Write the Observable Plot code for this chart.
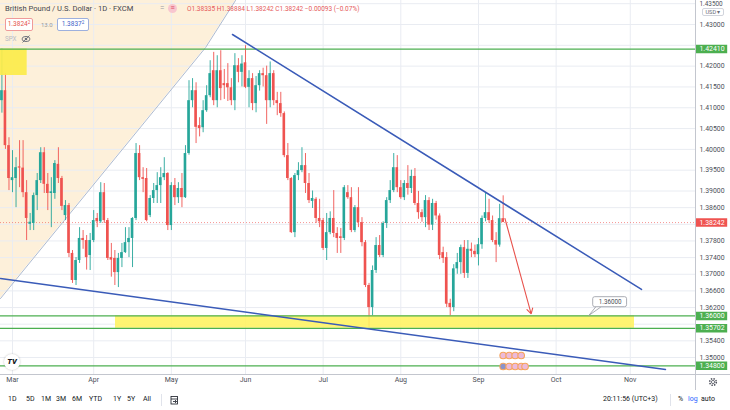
<!DOCTYPE html>
<html><head><meta charset="utf-8">
<script src="https://cdn.jsdelivr.net/npm/d3@7"></script>
<script src="https://cdn.jsdelivr.net/npm/@observablehq/plot@0.6"></script>
<style>
body{margin:0;background:#fff;font-family:Roboto,"Liberation Sans",sans-serif;}
#wrap{position:relative;width:730px;height:410px;overflow:hidden;}
#wrap svg{position:absolute;left:0;top:0;}
.ov{position:absolute;white-space:nowrap;line-height:1;}
.bx{position:absolute;box-sizing:border-box;border-radius:2px;background:#fff;text-align:center;line-height:10px;}
.tb{position:absolute;top:396px;font-size:7px;color:#131722;white-space:nowrap;line-height:1;}
sup{font-size:70%;vertical-align:2px;line-height:0;}
</style></head><body><div id="wrap"></div>
<script>
// ---- data: GBP/USD daily candles, bar index starts at -3 (Mar 1 = 0) ----
const firstBar = -3;
const opens = [
1.4117,1.4141,1.4009,1.3925,1.3930,1.3958,1.3955,1.3896,1.3820,1.3822,
1.3889,1.3925,1.3992,1.3916,1.3894,1.3894,1.3964,1.3930,1.3841,1.3865,
1.3750,1.3685,1.3733,1.3786,1.3781,1.3745,1.3781,1.3834,1.3826,1.3896,
1.3829,1.3740,1.3738,1.3704,1.3738,1.3752,1.3776,1.3786,1.3834,1.3990,
1.3932,1.3930,1.3841,1.3882,1.3901,1.3913,1.3932,1.3942,1.3817,1.3913,
1.3884,1.3906,1.3884,1.3990,1.4117,1.4141,1.4057,1.4052,1.4093,1.4129,
1.4189,1.4117,1.4189,1.4158,1.4158,1.4148,1.4117,1.4201,1.4185,1.4208,
1.4149,1.4170,1.4110,1.4153,1.4182,1.4177,1.4117,1.4182,1.4117,1.4110,
1.4086,1.3985,1.3930,1.3800,1.3937,1.3949,1.3961,1.3918,1.3875,1.3880,
1.3834,1.3829,1.3762,1.3800,1.3834,1.3798,1.3790,1.3786,1.3896,1.3884,
1.3805,1.3860,1.3824,1.3776,1.3673,1.3620,1.3709,1.3769,1.3745,1.3822,
1.3877,1.3901,1.3956,1.3908,1.3884,1.3918,1.3906,1.3935,1.3870,1.3848,
1.3836,1.3877,1.3818,1.3870,1.3840,1.3752,1.3740,1.3630,1.3620,1.3713,
1.3728,1.3764,1.3702,1.3760,1.3755,1.3747,1.3771,1.3834,1.3848,1.3829,
1.3781,1.3770,1.38335];
const highs = [
1.4241,1.4182,1.4028,1.3997,1.3980,1.4021,1.4021,1.3925,1.3846,1.3895,
1.3942,1.4004,1.4004,1.3942,1.3932,1.3973,1.4004,1.3935,1.3877,1.3870,
1.3757,1.3740,1.3812,1.3805,1.3793,1.3798,1.3853,1.3846,1.3920,1.3918,
1.3834,1.3774,1.3757,1.3750,1.3774,1.3812,1.3812,1.3836,1.4014,1.4009,
1.3956,1.3954,1.3889,1.3918,1.3944,1.3956,1.3980,1.3944,1.3920,1.3930,
1.3920,1.3942,1.4009,1.4165,1.4170,1.4160,1.4076,1.4117,1.4153,1.4213,
1.4233,1.4225,1.4237,1.4192,1.4206,1.4170,1.4230,1.4218,1.4225,1.4249,
1.4189,1.4182,1.4175,1.4189,1.4195,1.4200,1.4210,1.4189,1.4137,1.4137,
1.4090,1.4014,1.3932,1.3942,1.3968,1.4004,1.3990,1.3942,1.3900,1.3884,
1.3880,1.3834,1.3846,1.3850,1.3901,1.3812,1.3810,1.3913,1.3913,1.3908,
1.3865,1.3908,1.3836,1.3781,1.3678,1.3720,1.3788,1.3793,1.3826,1.3884,
1.3925,1.3990,1.3985,1.3925,1.3925,1.3961,1.3950,1.3954,1.3899,1.3855,
1.3889,1.3884,1.3880,1.3875,1.3845,1.3765,1.3752,1.3640,1.3723,1.3750,
1.3770,1.3781,1.3781,1.3775,1.3770,1.3786,1.3840,1.3896,1.3880,1.3840,
1.3800,1.3868,1.38884];
const lows = [
1.4087,1.4000,1.3901,1.3896,1.3860,1.3908,1.3884,1.3781,1.3805,1.3805,
1.3853,1.3918,1.3894,1.3853,1.3812,1.3880,1.3918,1.3853,1.3829,1.3740,
1.3678,1.3673,1.3726,1.3760,1.3710,1.3709,1.3776,1.3812,1.3822,1.3822,
1.3733,1.3693,1.3673,1.3668,1.3716,1.3750,1.3740,1.3716,1.3829,1.3925,
1.3896,1.3826,1.3836,1.3870,1.3870,1.3870,1.3925,1.3805,1.3805,1.3865,
1.3870,1.3860,1.3882,1.3986,1.4100,1.4014,1.4030,1.4040,1.4089,1.4124,
1.4105,1.4100,1.4117,1.4120,1.4115,1.4105,1.4093,1.4160,1.4150,1.4146,
1.4100,1.4093,1.4088,1.4140,1.4150,1.4060,1.4100,1.4105,1.4081,1.4077,
1.3980,1.3925,1.3798,1.3788,1.3925,1.3944,1.3894,1.3870,1.3858,1.3822,
1.3812,1.3757,1.3733,1.3795,1.3788,1.3750,1.3750,1.3781,1.3880,1.3800,
1.3800,1.3812,1.3766,1.3668,1.3572,1.3600,1.3702,1.3740,1.3740,1.3810,
1.3870,1.3896,1.3896,1.3880,1.3877,1.3890,1.3894,1.3865,1.3832,1.3825,
1.3812,1.3805,1.3805,1.3830,1.3735,1.3726,1.3620,1.3600,1.3610,1.3700,
1.3700,1.3690,1.3690,1.3740,1.3740,1.3720,1.3760,1.3826,1.3822,1.3776,
1.3728,1.3765,1.38242];
const closes = [
1.4141,1.4009,1.3930,1.3932,1.3956,1.3955,1.3896,1.3834,1.3825,1.3889,
1.3925,1.3992,1.3916,1.3894,1.3898,1.3966,1.3930,1.3863,1.3865,1.3750,
1.3685,1.3733,1.3786,1.3781,1.3740,1.3781,1.3829,1.3826,1.3896,1.3829,
1.3738,1.3734,1.3704,1.3738,1.3752,1.3776,1.3786,1.3834,1.3990,1.3932,
1.3928,1.3829,1.3882,1.3901,1.3913,1.3932,1.3942,1.3817,1.3913,1.3884,
1.3906,1.3884,1.3990,1.4117,1.4141,1.4053,1.4050,1.4093,1.4129,1.4182,
1.4117,1.4189,1.4146,1.4153,1.4148,1.4117,1.4201,1.4185,1.4205,1.4149,
1.4170,1.4110,1.4153,1.4182,1.4177,1.4117,1.4182,1.4117,1.4110,1.4086,
1.3985,1.3930,1.3800,1.3937,1.3949,1.3961,1.3918,1.3877,1.3882,1.3834,
1.3826,1.3762,1.3800,1.3834,1.3798,1.3786,1.3786,1.3908,1.3884,1.3805,
1.3860,1.3824,1.3776,1.3673,1.3620,1.3709,1.3769,1.3745,1.3822,1.3877,
1.3901,1.3956,1.3908,1.3884,1.3918,1.3906,1.3935,1.3870,1.3848,1.3836,
1.3877,1.3818,1.3870,1.3840,1.3745,1.3738,1.3628,1.3620,1.3713,1.3728,
1.3764,1.3702,1.3760,1.3755,1.3747,1.3771,1.3834,1.3848,1.3829,1.3781,
1.3770,1.38335,1.38242];

// axes
const monthLabels = ["Mar","Apr","May","Jun","Jul","Aug","Sep","Oct","Nov"];
const monthBars   = [0, 23, 45, 66, 88, 110, 132, 154, 175];
const gridTicks   = [1.435,1.43,1.425,1.42,1.415,1.41,1.405,1.40,1.395,1.39,
                     1.386,1.382,1.378,1.374,1.37,1.366,1.362,1.358,1.354,1.35];
const labelTicks  = [1.43,1.42,1.415,1.41,1.405,1.40,1.395,1.39,
                     1.386,1.378,1.374,1.37,1.366,1.362,1.354,1.35];
const topTick     = [1.435];

// drawings (bar index, price)
const levels = [1.42410, 1.36000, 1.35702, 1.34800];
const lastPrice = 1.38242;
const fanEdge = [{i:-3.4, p:1.36417}, {i:54.7, p:1.42447}, {i:63.17, p:1.435766}];
const upperTrend = [{i:62.32, p:1.42760}, {i:178.18, p:1.36634}];
const lowerTrend = [{i:-3.4, p:1.36898}, {i:184.98, p:1.34712}];
const zoneBand = {i1:29.18, i2:176.2, p1:1.35702, p2:1.36000};
const cornerBox = {i1:-3.4, i2:4.16, p1:1.41775, p2:1.42410};
const arrowPath = {i1:139.5, p1:1.38339, i2:146.93, p2:1.36050};
const calloutBox = {i1:164.5, i2:174.1, p1:1.36208, p2:1.36449, text:"1.36000"};
const calloutTail = [{i:165.15, p:1.36208}, {i:163.25, p:1.36009}, {i:166.57, p:1.36208}];
const eventBars = [139.0, 140.7, 142.4, 144.1, 139.0, 140.7, 142.4, 144.1, 145.2];
const eventRows = [1.35048,1.35048,1.35048,1.35048,1.34784,1.34784,1.34784,1.34784,1.34784];

const candles = opens.map((o, k) => ({i: firstBar + k, o, h: highs[k], l: lows[k], c: closes[k]}));
const GREEN = "#26a69a", RED = "#ef5350";
const col = d => d.c >= d.o ? GREEN : RED;
const f5 = d3.format(".5f");
const xDomain = [-3.4, 193.48];
const yDomain = [1.345916, 1.435766];
const axisI1 = 193.76, axisI2 = 202.6, axisText = 194.6, fullRight = 203.4;

const chart = Plot.plot({
  width: 730, height: 410,
  marginLeft: 0, marginRight: 35, marginTop: 0, marginBottom: 36,
  x: {type: "linear", domain: xDomain},
  y: {type: "linear", domain: yDomain},
  style: {fontFamily: "Roboto, 'Liberation Sans', sans-serif", background: "white", overflow: "visible"},
  marks: [
    Plot.areaY(fanEdge, {x: "i", y1: "p", y2: () => yDomain[1], fill: "#fdf0da", curve: "linear"}),
    Plot.gridY(gridTicks, {stroke: "#e9ecf2", strokeOpacity: 1}),
    Plot.gridX(monthBars, {stroke: "#e9ecf2", strokeOpacity: 1}),
    Plot.line(fanEdge, {x: "i", y: "p", stroke: "#aebbd0", strokeWidth: 1}),
    Plot.ruleY([lastPrice], {stroke: RED, strokeOpacity: 0.6, strokeDasharray: "1,2"}),
    Plot.ruleX(candles, {x: "i", y1: "l", y2: "h", stroke: col, strokeWidth: 0.9}),
    Plot.rect(candles, {x1: d => d.i - 0.37, x2: d => d.i + 0.37, y1: "o", y2: "c", fill: col}),
    Plot.rect([zoneBand], {x1: "i1", x2: "i2", y1: "p1", y2: "p2", fill: "#fff25e", fillOpacity: 0.88}),
    Plot.rect([cornerBox], {x1: "i1", x2: "i2", y1: "p1", y2: "p2", fill: "#fcec4a", fillOpacity: 0.92}),
    Plot.ruleY(levels, {stroke: "#4caf50", strokeWidth: 1.3}),
    Plot.line(upperTrend, {x: "i", y: "p", stroke: "#3a5bb8", strokeWidth: 1.5}),
    Plot.line(lowerTrend, {x: "i", y: "p", stroke: "#3a5bb8", strokeWidth: 1.5}),
    Plot.arrow([arrowPath], {x1: "i1", y1: "p1", x2: "i2", y2: "p2", stroke: "#e8524c", strokeWidth: 1.1, headLength: 8, headAngle: 60}),
    Plot.line(calloutTail, {x: "i", y: "p", stroke: "#9598a1", strokeWidth: 0.8, fill: "white"}),
    Plot.rect([calloutBox], {x1: "i1", x2: "i2", y1: "p1", y2: "p2", fill: "white", stroke: "#9598a1", strokeWidth: 0.8, rx: 2}),
    Plot.text([calloutBox], {x: d => (d.i1 + d.i2) / 2, y: d => (d.p1 + d.p2) / 2, text: "text", fontSize: 6.3, fill: "#4c4f58"}),
    Plot.dot(eventBars.map((b, k) => ({i: b, p: eventRows[k]})), {x: "i", y: "p", r: 3.3, fill: (d, k) => k === 4 ? "#8b93c9" : "#ecbad9", stroke: "#f5a35c", strokeWidth: 1.1}),
    Plot.axisY(labelTicks, {anchor: "right", tickSize: 0, tickPadding: 4, tickFormat: f5, fontSize: 6.9, fill: "#4c4f58", label: null}),
    Plot.text(topTick, {x: axisText, y: d => d, dy: 0.6, text: f5, textAnchor: "start", fill: "#4c4f58", fontSize: 6.4}),
    Plot.axisX(monthBars, {anchor: "bottom", tickSize: 0, tickPadding: 3, tickFormat: d => monthLabels[monthBars.indexOf(d)], fontSize: 7, fill: "#4c4f58", label: null}),
    Plot.ruleY(levels, {x1: axisI1, x2: axisI2, stroke: "#4caf50", strokeWidth: 8.5}),
    Plot.text(levels, {x: axisText, y: d => d, text: f5, textAnchor: "start", fill: "white", fontSize: 6.9}),
    Plot.ruleY([lastPrice], {x1: axisI1, x2: axisI2, stroke: RED, strokeWidth: 8.5}),
    Plot.text([lastPrice], {x: axisText, y: d => d, text: f5, textAnchor: "start", fill: "white", fontSize: 6.9}),
    Plot.ruleY([yDomain[0]], {x1: xDomain[0], x2: fullRight, stroke: "#c3c6ce", strokeWidth: 1}),
    Plot.ruleX([xDomain[1]], {y1: yDomain[1], y2: 1.34207, stroke: "#c3c6ce", strokeWidth: 1})
  ]
});
const wrap = document.getElementById("wrap");
wrap.appendChild(chart);

const html = `
<div class="ov" style="left:5px;top:5px;font-size:7.6px;color:#434651">British Pound / U.S. Dollar · 1D · FXCM</div>
<div class="ov" style="left:160px;top:4px;font-size:8px;color:#9598a1">=</div>
<div class="ov" style="left:168px;top:4px;width:9px;height:9px;border-radius:50%;background:#f8c6cf;color:#e0475b;font-size:7px;text-align:center;line-height:9px">≡</div>
<div class="ov" style="left:187px;top:6px;font-size:6.5px;color:#e55a5a">O1.38335 H1.38884 L1.38242 C1.38242 −0.00093 (−0.07%)</div>
<div class="bx" style="left:5px;top:18px;width:28px;height:13px;border:1px solid #ef9a9a;color:#e5534b;font-size:6.5px;line-height:11px">1.3824<sup>2</sup></div>
<div class="ov" style="left:41px;top:21.5px;font-size:6px;color:#9598a1">13.0</div>
<div class="bx" style="left:57px;top:18px;width:32px;height:13px;border:1px solid #9db0dd;color:#3b62c8;font-size:6.5px;line-height:11px">1.3837<sup>2</sup></div>
<div class="ov" style="left:5px;top:36px;font-size:6.3px;color:#b8bbc3">SPX</div>
<svg class="ov" style="left:21px;top:35px" width="10" height="8" viewBox="0 0 10 8"><ellipse cx="5" cy="4" rx="4" ry="2.6" fill="none" stroke="#6a6d78" stroke-width="0.9"/><circle cx="5" cy="4" r="1.3" fill="#6a6d78"/><line x1="1.5" y1="7.5" x2="8.5" y2="0.5" stroke="#6a6d78" stroke-width="0.9"/></svg>
<div class="bx" style="left:702px;top:8px;width:22px;height:8px;border:1px solid #d1d4dc;color:#6a6d78;font-size:5.6px;line-height:6px">USD ▾</div>
<div class="ov" style="left:4px;top:354px;width:16px;height:16px;border-radius:50%;background:#fff;box-shadow:0 0 2px rgba(0,0,0,0.25);font-size:7.5px;font-weight:900;color:#131722;text-align:center;line-height:16px;font-style:italic">TV</div>
<svg class="ov" style="left:708px;top:377px" width="10" height="10" viewBox="0 0 10 10"><circle cx="5" cy="5" r="3.3" fill="none" stroke="#50535e" stroke-width="1.6" stroke-dasharray="1.4,1.2"/><circle cx="5" cy="5" r="1.6" fill="none" stroke="#50535e" stroke-width="0.8"/></svg>
<div class="tb" style="left:8px">1D</div>
<div class="tb" style="left:26px">5D</div>
<div class="tb" style="left:41px">1M</div>
<div class="tb" style="left:56px">3M</div>
<div class="tb" style="left:72px">6M</div>
<div class="tb" style="left:89px">YTD</div>
<div class="tb" style="left:113px">1Y</div>
<div class="tb" style="left:127px">5Y</div>
<div class="tb" style="left:143px">All</div>
<div class="ov" style="left:161px;top:394px;width:1px;height:12px;background:#e0e3eb"></div>
<svg class="ov" style="left:170px;top:395px" width="9" height="10" viewBox="0 0 9 10"><rect x="1" y="1.5" width="6.5" height="7.5" fill="none" stroke="#131722" stroke-width="0.8"/><path d="M1 4h6.5M3 6.5h3.5M5 5l1.5 1.5L5 8" fill="none" stroke="#131722" stroke-width="0.8"/></svg>
<div class="tb" style="left:603px">20:11:56 (UTC+3)</div>
<div class="ov" style="left:670px;top:394px;width:1px;height:12px;background:#e0e3eb"></div>
<div class="tb" style="left:678px">%</div>
<div class="tb" style="left:688px;color:#2962ff">log</div>
<div class="tb" style="left:701px">auto</div>
`;
wrap.insertAdjacentHTML("beforeend", html);
</script>
</body></html>
